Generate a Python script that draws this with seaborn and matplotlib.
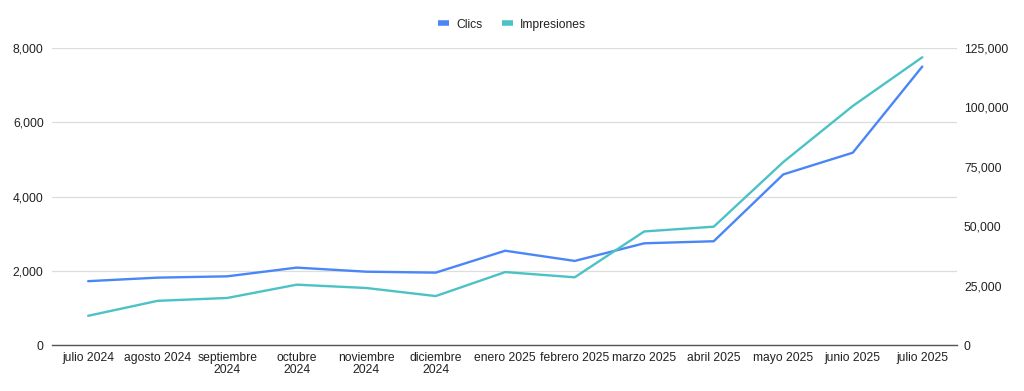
import matplotlib
matplotlib.use("Agg")
from matplotlib import pyplot as plt
from matplotlib.ticker import FuncFormatter
from matplotlib.lines import Line2D
import pandas as pd
import seaborn as sns

meses = ["julio 2024", "agosto 2024", "septiembre\n2024", "octubre\n2024",
         "noviembre\n2024", "diciembre\n2024", "enero 2025", "febrero 2025",
         "marzo 2025", "abril 2025", "mayo 2025", "junio 2025", "julio 2025"]
clics = [1720, 1815, 1850, 2085, 1975, 1950, 2540, 2265, 2740, 2795, 4595, 5180, 7500]
impresiones = [12300, 18600, 19800, 25400, 24000, 20600, 30700, 28500,
               47800, 49800, 77000, 100600, 121100]

azul = "#4a86f7"
turquesa = "#4cc2c7"

sns.set_style("white")
plt.rcParams["font.family"] = ["Liberation Sans", "DejaVu Sans"]

df = pd.DataFrame({"mes": meses, "pos": range(len(meses)),
                   "Clics": clics, "Impresiones": impresiones})

fig = plt.figure(figsize=(10.24, 3.91), dpi=100)
ax = fig.add_axes([0.0508, 0.1176, 0.8838, 0.7596])
ax2 = ax.twinx()

sns.lineplot(data=df, x="pos", y="Clics", ax=ax, color=azul, linewidth=1.7)
sns.lineplot(data=df, x="pos", y="Impresiones", ax=ax2, color=turquesa, linewidth=1.7)

ax.set_xlim(-0.52, len(meses) - 1 + 0.5)
ax.set_ylim(0, 8000)
ax2.set_ylim(0, 125000)
ax.set_yticks([0, 2000, 4000, 6000, 8000])
ax2.set_yticks([0, 25000, 50000, 75000, 100000, 125000])
fmt = FuncFormatter(lambda v, p: f"{int(v):,}")
ax.yaxis.set_major_formatter(fmt)
ax2.yaxis.set_major_formatter(fmt)

ax.set_xticks(range(len(meses)))
ax.set_xticklabels(meses, fontsize=8.7, color="#222222", linespacing=0.95)
ax.tick_params(axis="y", labelsize=8.7, labelcolor="#222222", length=0, pad=6)
ax2.tick_params(axis="y", labelsize=8.7, labelcolor="#222222", length=0, pad=5)
ax.tick_params(axis="x", length=0, pad=5)

ax.grid(axis="y", color="#dddddd", linewidth=0.9)
ax2.grid(False)
ax.set_axisbelow(True)
for a in (ax, ax2):
    for s in a.spines.values():
        s.set_visible(False)
    a.set_xlabel("")
    a.set_ylabel("")
ax.spines["bottom"].set_visible(True)
ax.spines["bottom"].set_color("#555555")
ax.spines["bottom"].set_linewidth(1.0)

handles = [Line2D([], [], color=azul, linewidth=4, solid_capstyle="butt"),
           Line2D([], [], color=turquesa, linewidth=4, solid_capstyle="butt")]
fig.legend(handles, ["Clics", "Impresiones"], loc="center", bbox_to_anchor=(0.5, 0.937),
           ncol=2, frameon=False, fontsize=8.7, handlelength=0.9, handletextpad=0.6,
           columnspacing=1.6, labelcolor="#222222")

fig.savefig("out.png", dpi=100)
